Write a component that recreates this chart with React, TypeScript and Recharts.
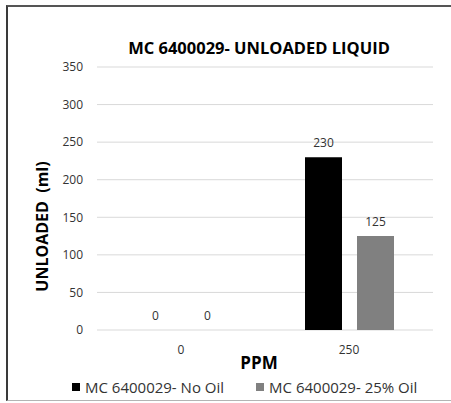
import React from 'react';
import {
    BarChart,
    Bar,
    XAxis,
    YAxis,
    CartesianGrid,
    Legend,
    LabelList,
} from 'recharts';

const categories = ['0', '250'];
const noOil = [0, 230];
const oil25 = [0, 125];
const yTicks = [0, 50, 100, 150, 200, 250, 300, 350];

const seriesNames = {
    noOil: 'MC 6400029- No Oil',
    oil25: 'MC 6400029- 25% Oil',
};
const legendOrder = [seriesNames.noOil, seriesNames.oil25];

const data = categories.map((ppm, i) => ({
    ppm,
    noOil: noOil[i],
    oil25: oil25[i],
}));

const FONT = '"Open Sans", sans-serif';
const TEXT = '#333';

function LegendBox(props: any) {
    const items = [...(props.payload ?? [])].sort(
        (a: any, b: any) => legendOrder.indexOf(a.value) - legendOrder.indexOf(b.value)
    );
    return (
        <div
            style={{
                display: 'flex',
                alignItems: 'center',
                gap: 32,
                height: 22,
                paddingLeft: 72,
                fontFamily: FONT,
                fontSize: 15,
                color: TEXT,
            }}
        >
            {items.map((it: any) => (
                <div key={it.value} style={{ display: 'flex', alignItems: 'center' }}>
                    <span
                        style={{
                            display: 'inline-block',
                            width: 8,
                            height: 8,
                            background: it.color,
                            marginRight: 5,
                        }}
                    />
                    <span style={{ whiteSpace: 'nowrap' }}>{it.value}</span>
                </div>
            ))}
        </div>
    );
}

export default function App() {
    return (
        <div
            style={{
                position: 'absolute',
                left: 0,
                top: 0,
                width: 451,
                height: 403,
                background: '#fff',
                fontFamily: FONT,
            }}
        >
            {/* frame */}
            <div
                style={{
                    position: 'absolute',
                    left: 6,
                    top: 5,
                    width: 445,
                    height: 396,
                    borderTop: '2px solid #555',
                    borderLeft: '2px solid #3a3a3a',
                    borderBottom: '1px solid #b4b4b4',
                    boxSizing: 'border-box',
                }}
            />
            <div
                style={{
                    position: 'absolute',
                    left: 59,
                    top: 38,
                    width: 400,
                    textAlign: 'center',
                    fontSize: 16.5,
                    lineHeight: '20px',
                    fontWeight: 700,
                    color: '#000',
                    whiteSpace: 'nowrap',
                }}
            >
                MC 6400029- UNLOADED LIQUID
            </div>
            <div style={{ position: 'absolute', left: 0, top: 0 }}>
                <BarChart
                    width={451}
                    height={403}
                    data={data}
                    margin={{ top: 67, right: 18, left: 0, bottom: 5 }}
                    barSize={37}
                    barGap={15}
                >
                    <CartesianGrid stroke="#d9d9d9" vertical={false} />
                    <XAxis
                        dataKey="ppm"
                        height={46}
                        axisLine={false}
                        tickLine={false}
                        tickSize={0}
                        tickMargin={15}
                        tick={{ fill: TEXT, fontSize: 12, fontFamily: FONT }}
                        label={{
                            value: 'PPM',
                            position: 'insideBottom',
                            offset: 7,
                            dx: -6,
                            fill: '#000',
                            fontSize: 17,
                            fontWeight: 700,
                            fontFamily: FONT,
                        }}
                    />
                    <YAxis
                        width={97}
                        domain={[0, 350]}
                        ticks={yTicks}
                        axisLine={false}
                        tickLine={false}
                        tickSize={0}
                        tickMargin={14}
                        tick={{ fill: TEXT, fontSize: 12, fontFamily: FONT }}
                        label={{
                            value: 'UNLOADED\u00a0\u00a0(ml)',
                            angle: -90,
                            position: 'center',
                            dx: -6,
                            dy: 28,
                            fill: '#000',
                            fontSize: 16,
                            fontWeight: 700,
                            fontFamily: FONT,
                        }}
                    />
                    <Legend verticalAlign="bottom" content={<LegendBox />} />
                    <Bar
                        dataKey="noOil"
                        name={seriesNames.noOil}
                        fill="#000000"
                        minPointSize={0.1}
                        isAnimationActive={false}
                    >
                        <LabelList
                            dataKey="noOil"
                            position="top"
                            offset={10}
                            fill={TEXT}
                            fontSize={12}
                            fontFamily={FONT}
                        />
                    </Bar>
                    <Bar
                        dataKey="oil25"
                        name={seriesNames.oil25}
                        fill="#808080"
                        minPointSize={0.1}
                        isAnimationActive={false}
                    >
                        <LabelList
                            dataKey="oil25"
                            position="top"
                            offset={10}
                            fill={TEXT}
                            fontSize={12}
                            fontFamily={FONT}
                        />
                    </Bar>
                </BarChart>
            </div>
        </div>
    );
}
